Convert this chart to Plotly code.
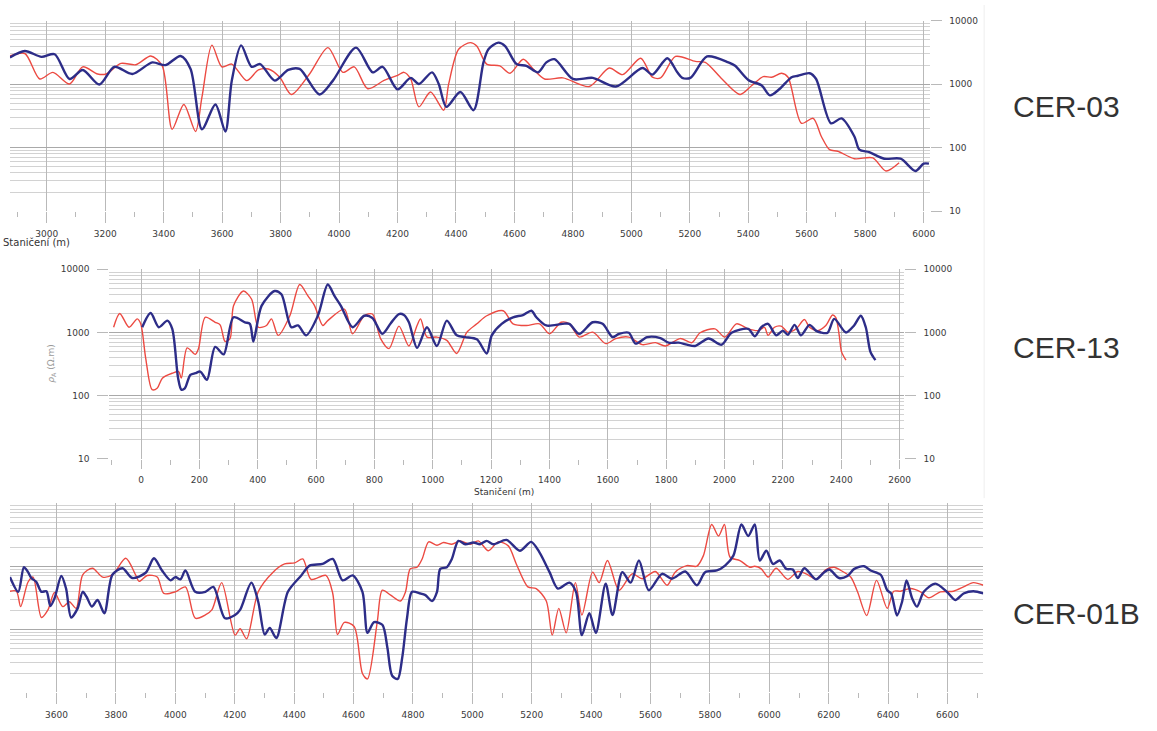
import plotly.graph_objects as go

W, H = 1157, 731

# ---------------------------------------------------------------------------
# Apparent resistivity profiles (station in m, rho_A in ohm.m)
# ---------------------------------------------------------------------------
CER03_BLUE = [
    (2874, 2640), (2925, 3340), (2982, 2700), (3027, 2970), (3078, 1210), (3123, 1680),
    (3180, 990), (3231, 1880), (3293, 1450), (3361, 2210), (3406, 2000), (3458, 2790),
    (3492, 1740), (3531, 195), (3577, 480), (3611, 180), (3633, 1140), (3665, 4100),
    (3701, 1880), (3730, 2080), (3780, 1140), (3826, 1680), (3865, 1740), (3933, 690),
    (3979, 1140), (4058, 3780), (4115, 1540), (4149, 1880), (4200, 830), (4245, 1260),
    (4273, 1010), (4318, 1540), (4341, 1010), (4367, 440), (4415, 754), (4460, 390),
    (4494, 2210), (4511, 3560), (4545, 4520), (4568, 4000), (4607, 2080), (4641, 1950),
    (4681, 1540), (4709, 2210), (4737, 2480), (4800, 1210), (4868, 1260), (4947, 920),
    (5038, 1800), (5072, 1420), (5123, 2570), (5157, 1540), (5174, 1260), (5202, 1260),
    (5259, 2740), (5332, 2210), (5355, 1950), (5400, 1170), (5446, 955), (5474, 667),
    (5508, 850), (5548, 1290), (5570, 1360), (5610, 1490), (5632, 1210), (5683, 242),
    (5719, 290), (5763, 150), (5780, 93), (5814, 85), (5865, 67), (5921, 67),
    (5972, 43), (6000, 56), (6018, 56),
]
CER03_RED = [
    (2874, 2790), (2925, 3050), (2976, 1210), (3021, 1540), (3078, 1010), (3123, 1880),
    (3174, 1450), (3203, 1450), (3254, 2130), (3305, 2030), (3356, 2790), (3395, 1950),
    (3429, 195), (3469, 480), (3509, 180), (3531, 630), (3565, 4140), (3599, 1880),
    (3633, 2080), (3684, 1140), (3724, 1680), (3758, 1740), (3797, 1290), (3837, 690),
    (3899, 1450), (3962, 3780), (4013, 1540), (4052, 1880), (4098, 850), (4154, 1150),
    (4200, 1380), (4222, 1540), (4245, 1210), (4273, 440), (4313, 754), (4358, 390),
    (4375, 1010), (4409, 3560), (4449, 4520), (4471, 4000), (4505, 2080), (4550, 1950),
    (4585, 1490), (4630, 2480), (4664, 1740), (4703, 1210), (4766, 1260), (4856, 920),
    (4924, 1800), (4970, 1420), (5032, 2570), (5072, 1290), (5100, 1260), (5151, 2740),
    (5219, 2290), (5253, 2210), (5310, 1210), (5372, 690), (5412, 955), (5451, 1320),
    (5480, 1290), (5514, 1490), (5536, 1290), (5582, 242), (5622, 290), (5650, 150),
    (5678, 93), (5706, 88), (5763, 67), (5826, 69), (5871, 43), (5916, 58),
]

CER13_BLUE = [
    (4, 1210), (33, 2030), (61, 1210), (90, 1540), (107, 1140), (127, 189), (138, 124),
    (150, 130), (169, 213), (186, 226), (203, 240), (226, 178), (254, 590), (283, 450),
    (317, 1740), (356, 1450), (373, 1370), (385, 720), (413, 2640), (458, 4530),
    (481, 4020), (515, 1210), (538, 1290), (566, 900), (606, 1840), (640, 5750),
    (663, 3790), (685, 2640), (725, 1210), (765, 1840), (793, 1700), (827, 950),
    (856, 1400), (884, 1960), (901, 1890), (918, 1450), (946, 570), (980, 1210),
    (1014, 611), (1048, 1540), (1082, 900), (1111, 845), (1151, 778), (1185, 465),
    (1202, 900), (1236, 1370), (1275, 1740), (1309, 1890), (1338, 2210), (1355, 1740),
    (1389, 1290), (1445, 1370), (1468, 1370), (1502, 950), (1548, 1450), (1582, 1370),
    (1616, 845), (1638, 950), (1672, 990), (1695, 665), (1735, 845), (1780, 815),
    (1808, 690), (1843, 690), (1871, 641), (1899, 611), (1945, 800), (1990, 641),
    (2024, 990), (2081, 1140), (2104, 870), (2126, 1210), (2149, 1370), (2177, 900),
    (2200, 1070), (2217, 918), (2240, 1320), (2262, 900), (2291, 1320), (2313, 1070),
    (2330, 1000), (2353, 990), (2376, 1640), (2416, 1000), (2444, 1290), (2467, 1840),
    (2484, 1210), (2500, 493), (2517, 365),
]
CER13_RED = [
    (-94, 1210), (-73, 2000), (-41, 1210), (-13, 1640), (-1, 1370), (16, 390), (38, 124),
    (56, 132), (73, 189), (107, 226), (129, 240), (138, 189), (158, 570), (186, 450),
    (197, 555), (220, 1740), (254, 1450), (271, 1320), (288, 720), (305, 800),
    (317, 2640), (351, 4530), (379, 3360), (402, 1210), (430, 1290), (447, 1640),
    (470, 900), (510, 1840), (544, 5750), (572, 3790), (595, 2640), (623, 1290),
    (640, 1540), (697, 2340), (725, 950), (765, 1840), (793, 1960), (821, 800),
    (850, 555), (884, 1260), (918, 611), (946, 1290), (958, 1640), (980, 845),
    (1014, 845), (1048, 750), (1082, 465), (1117, 1010), (1151, 1370), (1185, 1840),
    (1241, 2210), (1275, 1370), (1321, 1290), (1366, 1370), (1400, 950), (1440, 1450),
    (1468, 1370), (1502, 845), (1548, 1010), (1593, 665), (1627, 800), (1672, 845),
    (1718, 641), (1763, 690), (1797, 611), (1848, 800), (1888, 690), (1916, 990),
    (1967, 1140), (2001, 845), (2041, 1370), (2081, 1140), (2115, 1070), (2137, 1200),
    (2149, 900), (2171, 1210), (2194, 1260), (2217, 1010), (2245, 1140), (2274, 1600),
    (2291, 1210), (2319, 1070), (2347, 1290), (2370, 1890), (2381, 1740), (2393, 900),
    (2401, 493), (2416, 365),
]

CER01B_BLUE = [
    (3443, 673), (3471, 393), (3490, 964), (3504, 805), (3515, 650), (3532, 562),
    (3549, 393), (3566, 402), (3579, 234), (3593, 309), (3616, 698), (3632, 443),
    (3649, 154), (3671, 215), (3688, 393), (3701, 328), (3719, 229), (3738, 291),
    (3761, 180), (3788, 732), (3822, 930), (3855, 650), (3900, 787), (3928, 1334),
    (3955, 856), (3984, 597), (4000, 673), (4017, 619), (4034, 856), (4067, 393),
    (4101, 393), (4128, 470), (4167, 150), (4201, 169), (4218, 203), (4256, 549),
    (4279, 274), (4301, 83), (4318, 105), (4340, 73), (4379, 393), (4424, 714),
    (4452, 1023), (4496, 1087), (4530, 1303), (4563, 597), (4597, 714), (4630, 393),
    (4647, 88), (4669, 130), (4697, 118), (4714, 51), (4730, 18.4), (4749, 16.4),
    (4764, 36), (4780, 150), (4797, 393), (4825, 370), (4842, 348), (4864, 281),
    (4881, 393), (4892, 908), (4914, 964), (4931, 1303), (4953, 2520), (4976, 2230),
    (5004, 2370), (5026, 2230), (5048, 2520), (5071, 2230), (5115, 2610), (5160, 1760),
    (5198, 2430), (5226, 1660), (5260, 805), (5288, 443), (5327, 549), (5349, 393),
    (5369, 81), (5394, 180), (5416, 88), (5449, 530), (5472, 169), (5505, 805),
    (5533, 549), (5561, 1230), (5594, 417), (5639, 758), (5672, 634), (5717, 826),
    (5756, 500), (5784, 805), (5823, 856), (5851, 1023), (5879, 1470), (5906, 4580),
    (5929, 3010), (5951, 4580), (5968, 1230), (5990, 1760), (6012, 1087), (6035, 1230),
    (6057, 908), (6079, 887), (6096, 650), (6118, 930), (6157, 619), (6185, 805),
    (6202, 887), (6235, 650), (6263, 698), (6286, 908), (6319, 1000), (6341, 856),
    (6375, 732), (6397, 417), (6410, 370), (6430, 166), (6447, 274), (6462, 597),
    (6481, 309), (6497, 229), (6520, 393), (6559, 530), (6598, 393), (6626, 291),
    (6654, 370), (6687, 402), (6721, 370),
]
CER01B_RED = [
    (3443, 402), (3465, 402), (3479, 229), (3504, 562), (3521, 673), (3549, 154),
    (3571, 203), (3593, 383), (3621, 229), (3643, 274), (3666, 215), (3688, 732),
    (3721, 930), (3755, 673), (3788, 732), (3833, 1334), (3867, 714), (3878, 576),
    (3905, 714), (3939, 673), (3961, 370), (4000, 393), (4034, 470), (4067, 150),
    (4101, 169), (4123, 203), (4156, 549), (4201, 81), (4218, 102), (4240, 71),
    (4279, 393), (4329, 805), (4368, 1087), (4402, 1128), (4429, 1303), (4457, 619),
    (4507, 714), (4530, 370), (4546, 83), (4569, 129), (4602, 111), (4630, 20),
    (4647, 16.4), (4680, 133), (4697, 417), (4725, 348), (4758, 281), (4775, 393),
    (4791, 908), (4814, 964), (4831, 1303), (4853, 2430), (4881, 2150), (4903, 2370),
    (4931, 2230), (4959, 2520), (4993, 2230), (5020, 2520), (5054, 1760), (5087, 2430),
    (5121, 2100), (5148, 1087), (5187, 470), (5215, 443), (5249, 281), (5269, 81),
    (5291, 215), (5316, 88), (5347, 549), (5369, 169), (5405, 805), (5427, 549),
    (5455, 1230), (5494, 417), (5538, 758), (5572, 634), (5616, 826), (5656, 500),
    (5683, 805), (5722, 1023), (5756, 1000), (5778, 1470), (5806, 4580), (5829, 3010),
    (5849, 4580), (5868, 1385), (5901, 1230), (5934, 964), (5951, 1000), (5973, 908),
    (5996, 673), (6023, 930), (6062, 619), (6096, 826), (6130, 732), (6157, 619),
    (6191, 887), (6219, 964), (6241, 856), (6274, 673), (6297, 393), (6328, 166),
    (6361, 597), (6397, 215), (6419, 402), (6442, 402), (6475, 443), (6509, 393),
    (6537, 316), (6576, 393), (6620, 402), (6654, 470), (6687, 549), (6721, 500),
]

PROFILE_NAMES = ["CER-03", "CER-13", "CER-01B"]
DECADES = [10, 100, 1000, 10000]
DECADE_TEXT = ["10", "100", "1000", "10000"]
MINOR_VALS = [k * 10 ** d for d in (1, 2, 3) for k in range(2, 10)]

BLUE = "#2d2d88"
RED = "#ec4a42"
GRID = "#b9b9b9"
TICKFONT = dict(family="DejaVu Sans", size=9, color="#3a3a3a")


def hx(px):
    return px / W


def vy(py):
    return 1 - py / H


fig = go.Figure()


def add_profile(red, blue, xa, ya):
    fig.add_trace(go.Scatter(
        x=[p[0] for p in red], y=[p[1] for p in red], xaxis=xa, yaxis=ya,
        mode="lines", line=dict(color=RED, width=1.4, shape="spline", smoothing=0.8),
        hoverinfo="skip", showlegend=False))
    fig.add_trace(go.Scatter(
        x=[p[0] for p in blue], y=[p[1] for p in blue], xaxis=xa, yaxis=ya,
        mode="lines", line=dict(color=BLUE, width=2.4, shape="spline", smoothing=0.8),
        hoverinfo="skip", showlegend=False))


add_profile(CER03_RED, CER03_BLUE, "x", "y")
add_profile(CER13_RED, CER13_BLUE, "x2", "y2")
add_profile(CER01B_RED, CER01B_BLUE, "x3", "y3")
# carrier for the right-hand scale of CER-13
fig.add_trace(go.Scatter(x=[1000], y=[1000], xaxis="x2", yaxis="y4", mode="markers",
                         marker=dict(opacity=0), hoverinfo="skip", showlegend=False))


def x_axis(domain, rng, anchor, ticklen):
    return dict(
        domain=domain, range=rng, anchor=anchor, tick0=0, dtick=200,
        showgrid=True, gridcolor=GRID, gridwidth=1, zeroline=False, showline=False,
        ticks="outside", ticklen=ticklen, tickcolor=GRID, tickfont=TICKFONT,
        ticklabelstandoff=3,
        minor=dict(tick0=0, dtick=100, ticks="outside", ticklen=5, tickcolor=GRID,
                   showgrid=False),
    )


def y_axis(domain, anchor, side, labels=True, grid=True):
    return dict(
        domain=domain, anchor=anchor, side=side, type="log", range=[1, 4],
        tickvals=DECADES, ticktext=DECADE_TEXT, showticklabels=labels,
        ticks="outside" if labels else "", ticklen=11, tickcolor=GRID,
        tickfont=TICKFONT, ticklabelstandoff=6,
        showgrid=grid, gridcolor="#a9a9a9", gridwidth=1, zeroline=False, showline=False,
        minor=dict(tickvals=MINOR_VALS, showgrid=grid, gridcolor="#d2d2d2",
                   gridwidth=1, ticks=""),
    )


fig.update_layout(
    width=W, height=H, autosize=False,
    margin=dict(l=0, r=0, t=0, b=0),
    paper_bgcolor="white", plot_bgcolor="white",
    xaxis=x_axis([hx(10), hx(936)], [2874, 6020], "y", 11),
    yaxis=y_axis([vy(209), vy(16)], "x", "right"),
    xaxis2=x_axis([hx(110), hx(910)], [-109, 2614], "y2", 9),
    yaxis2=y_axis([vy(460), vy(268)], "x2", "left"),
    yaxis4=dict(y_axis([vy(460), vy(268)], "x2", "right", grid=False), overlaying="y2"),
    xaxis3=x_axis([hx(10), hx(990)], [3443, 6720], "y3", 11),
    yaxis3=y_axis([vy(697), vy(505)], "x3", "left", labels=False),
)

annotations = []
for name, cy in zip(PROFILE_NAMES, [103, 347, 617]):
    annotations.append(dict(
        text=name, x=hx(1018), y=vy(cy), xref="paper", yref="paper",
        xanchor="left", yanchor="middle", showarrow=False,
        font=dict(family="Liberation Sans", size=30, color="#333333")))

annotations.append(dict(
    text="Staničení (m)", x=hx(1), y=vy(241), xref="paper", yref="paper",
    xanchor="left", yanchor="middle", showarrow=False,
    font=dict(family="DejaVu Sans", size=10, color="#333333")))
annotations.append(dict(
    text="Staničení (m)", x=hx(508), y=vy(494), xref="paper", yref="paper",
    xanchor="center", yanchor="middle", showarrow=False,
    font=dict(family="DejaVu Sans", size=9, color="#333333")))
annotations.append(dict(
    text="<i>ρ</i><sub>A</sub> (Ω.m)", x=hx(51), y=vy(364), xref="paper", yref="paper",
    xanchor="center", yanchor="middle", textangle=-90, showarrow=False,
    font=dict(family="DejaVu Sans", size=9, color="#9a9a9a")))
fig.update_layout(annotations=annotations)

# faint frame edge beside the upper two profiles
fig.add_shape(type="line", xref="paper", yref="paper",
              x0=hx(991), x1=hx(991), y0=vy(500), y1=vy(0),
              line=dict(color="#eeeeee", width=1))

fig.write_html("out.html")
